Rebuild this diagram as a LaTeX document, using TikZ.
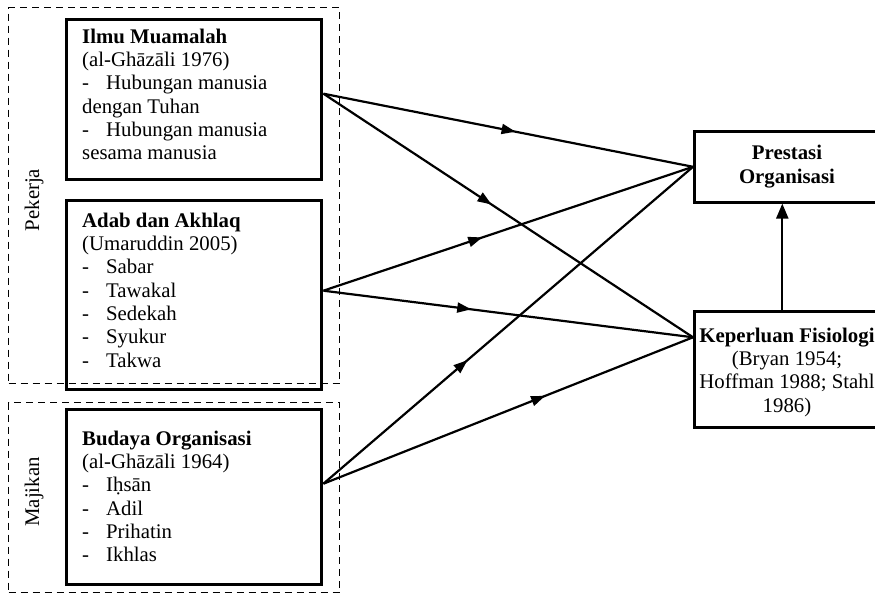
\documentclass[tikz,border=0pt]{standalone}
\usepackage{fontspec}
\setmainfont{Liberation Serif}
\usetikzlibrary{arrows.meta,decorations.markings}
\tikzset{
  leftbox/.style={draw, line width=3.4pt, inner sep=0pt, anchor=north west},
  rightbox/.style={draw, line width=2.6pt, inner sep=0pt, anchor=north west},
  groupbox/.style={draw, line width=1.4pt, dash pattern=on 7pt off 5pt, inner sep=0pt, anchor=north west},
  boxtext/.style={anchor=north west, inner sep=0pt, align=left, font=\fontsize{20.8}{23.3}\selectfont},
  ctrtext/.style={inner sep=0pt, align=center, font=\fontsize{20.8}{23.3}\selectfont},
  grouplabel/.style={inner sep=0pt, rotate=90, font=\fontsize{20.8}{23.3}\selectfont},
  conn/.style={line width=2.2pt},
  midarrow/.style={postaction={decorate}, decoration={markings, mark=at position #1 with {\arrow{Triangle[length=14pt,width=10pt]}}}}
}
\newcommand{\itm}{\makebox[24pt][l]{-}}
\begin{document}
\begin{tikzpicture}[x=1pt,y=-1pt]
\path[use as bounding box, clip] (0,0) rectangle (875,594);
% group boxes
\node[groupbox, minimum width=331pt, minimum height=376pt] (g1) at (8,7) {};
\node[groupbox, minimum width=331pt, minimum height=190pt] (g2) at (8,402) {};
\node[grouplabel] (lg1) at (34,200) {Pekerja};
\node[grouplabel] (lg2) at (34,492) {Majikan};
% left boxes
\node[leftbox, minimum width=255pt, minimum height=160pt] (b1) at (65,18) {};
\node[leftbox, minimum width=255pt, minimum height=189pt] (b2) at (65,199) {};
\node[leftbox, minimum width=255pt, minimum height=175pt] (b3) at (65,408) {};
\node[boxtext] (t1) at (82,26.7) {\strut\textbf{Ilmu Muamalah}\\(al-Ghāzāli 1976)\\\itm Hubungan manusia\\dengan Tuhan\\\itm Hubungan manusia\\sesama manusia};
\node[boxtext] (t2) at (82,210.7) {\strut\textbf{Adab dan Akhlaq}\\(Umaruddin 2005)\\\itm Sabar\\\itm Tawakal\\\itm Sedekah\\\itm Syukur\\\itm Takwa};
\node[boxtext] (t3) at (82,428.7) {\strut\textbf{Budaya Organisasi}\\(al-Ghāzāli 1964)\\\itm Iḥsān\\\itm Adil\\\itm Prihatin\\\itm Ikhlas};
% right boxes
\node[rightbox, minimum width=188pt, minimum height=71pt] (p) at (693,130) {};
\node[rightbox, minimum width=188pt, minimum height=116pt] (k) at (693,310) {};
\node[ctrtext, anchor=base] (tp) at (787,183) {\textbf{Prestasi}\\\textbf{Organisasi}};
\node[ctrtext, anchor=north] (tk) at (787,325.7) {\strut\textbf{Keperluan Fisiologi}\\(Bryan 1954;\\Hoffman 1988; Stahl\\1986)};
% connectors
\draw[conn, midarrow=0.52] ([yshift=6pt]b1.east) -- (p.west);
\draw[conn, midarrow=0.455] ([yshift=6pt]b1.east) -- ([yshift=32pt]k.west);
\draw[conn, midarrow=0.43] ([yshift=4.5pt]b2.east) -- (p.west);
\draw[conn, midarrow=0.40] ([yshift=4.5pt]b2.east) -- ([yshift=32pt]k.west);
\draw[conn, midarrow=0.39] ([yshift=13.5pt]b3.east) -- (p.west);
\draw[conn, midarrow=0.60] ([yshift=13.5pt]b3.east) -- ([yshift=32pt]k.west);
\draw[conn, -{Triangle[length=15pt,width=12pt]}] ([xshift=-6pt]k.north) -- ([xshift=-6pt]p.south);
\end{tikzpicture}
\end{document}
